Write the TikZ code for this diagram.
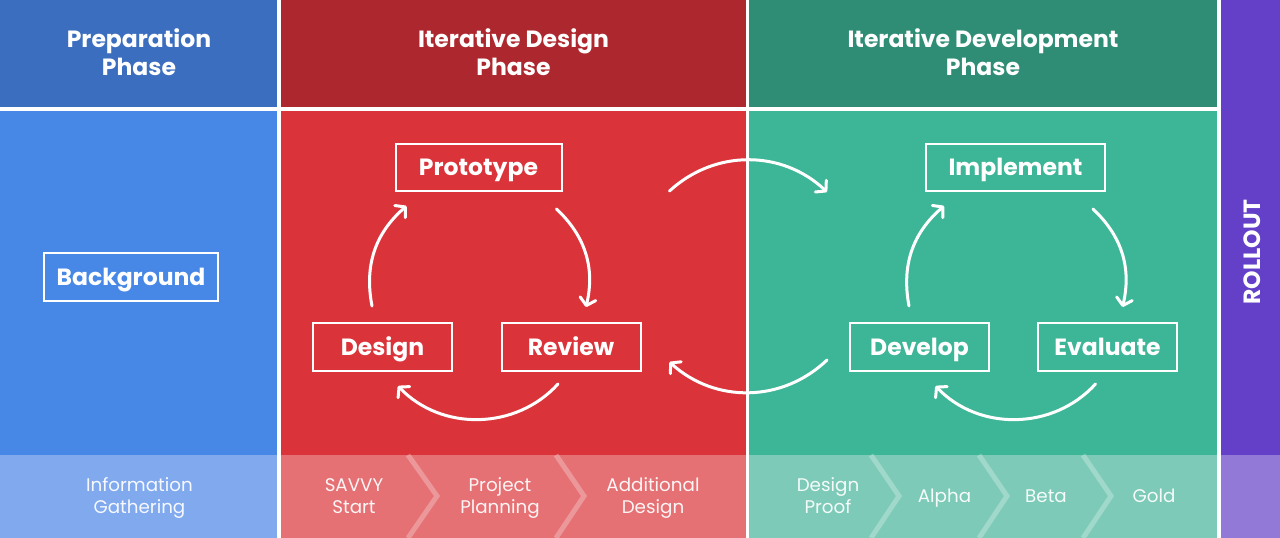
\documentclass[tikz,border=0pt]{standalone}
\usepackage{fontspec}
\setmainfont{Poppins}
\usetikzlibrary{arrows.meta,calc}
\definecolor{bluehd}{HTML}{3C6EBF}
\definecolor{bluebd}{HTML}{4787E5}
\definecolor{bluest}{HTML}{80A9EE}
\definecolor{redhd}{HTML}{AD282E}
\definecolor{redbd}{HTML}{DA333A}
\definecolor{redst}{HTML}{E57174}
\definecolor{grnhd}{HTML}{2F8D76}
\definecolor{grnbd}{HTML}{3DB597}
\definecolor{grnst}{HTML}{7CCAB7}
\definecolor{purp}{HTML}{6340C7}
\definecolor{purpst}{HTML}{9279D8}
\begin{document}
\begin{tikzpicture}[x=1pt,y=-1pt,
  stepbox/.style={draw=white, line width=2pt, text=white, inner sep=0pt,
    font=\bfseries\fontsize{23.5}{27}\selectfont, text height=16.5pt, text depth=0pt},
  hdr/.style={text=white, align=center, inner sep=0pt,
    font=\bfseries\fontsize{23.5}{28}\selectfont},
  striptxt/.style={text=white, text opacity=0.93, align=center, inner sep=0pt,
    font=\fontsize{18.3}{22}\selectfont},
  twoline/.style={striptxt, text height=35pt, text depth=4pt},
  oneline/.style={striptxt, text height=13pt, text depth=4pt},
  cyc/.style={draw=white, line width=3pt, line cap=round,
    -{Straight Barb[length=7pt,width=16pt,line width=3pt,round]}},
  chev/.style={draw=white, draw opacity=0.28, line width=5pt}
]
\useasboundingbox (0,0) rectangle (1280,538);
\fill[white] (0,0) rectangle (1280,538);
% column panels
\fill[bluehd] (0,0) rectangle (277,107);
\fill[bluebd] (0,111) rectangle (277,455);
\fill[bluest] (0,455) rectangle (277,538);
\fill[redhd] (281,0) rectangle (746,107);
\fill[redbd] (281,111) rectangle (746,455);
\fill[redst] (281,455) rectangle (746,538);
\fill[grnhd] (749,0) rectangle (1217,107);
\fill[grnbd] (749,111) rectangle (1217,455);
\fill[grnst] (749,455) rectangle (1217,538);
\fill[purp] (1221,0) rectangle (1280,455);
\fill[purpst] (1221,455) rectangle (1280,538);
% chevrons in the strip
\draw[chev] (408,455) -- (437,496) -- (408,538);
\draw[chev] (556,455) -- (584,496) -- (556,538);
\draw[chev] (871,455) -- (899,496) -- (871,538);
\draw[chev] (979,455) -- (1007,496) -- (979,538);
\draw[chev] (1083,455) -- (1111,496) -- (1083,538);
% headers
\node[hdr] (hprep) at (139,52.5) {Preparation\\Phase};
\node[hdr] (hdes) at (513.5,52.5) {Iterative Design\\Phase};
\node[hdr] (hdev) at (983,52.5) {Iterative Development\\Phase};
\node[hdr, rotate=90] (roll) at (1252,252) {ROLLOUT};
% boxes
\node[stepbox, minimum width=174pt, minimum height=48pt] (bg) at (131,277) {Background};
\node[stepbox, minimum width=166pt, minimum height=47pt] (proto) at (478.5,167.5) {Prototype};
\node[stepbox, minimum width=139pt, minimum height=48pt] (design) at (382.5,347) {Design};
\node[stepbox, minimum width=139pt, minimum height=48pt] (review) at (571,347) {Review};
\node[stepbox, minimum width=179pt, minimum height=47pt] (impl) at (1015.5,167.5) {Implement};
\node[stepbox, minimum width=139pt, minimum height=48pt] (devel) at (919.5,347) {Develop};
\node[stepbox, minimum width=139pt, minimum height=48pt] (eval) at (1107.5,347) {Evaluate};
% red cycle
\draw[cyc] ($(design.north)+(-10.5,-16)$) to[bend left=30] ($(proto.south west)+(12,14)$);
\draw[cyc] ($(proto.south east)+(-6,17)$) to[bend left=30] ($(review.north)+(15,-15)$);
\draw[cyc] ($(review.south)+(-13,12)$) to[bend left=47] ($(design.south)+(15.5,14)$);
% green cycle
\draw[cyc] ($(devel.north)+(-10.5,-16)$) to[bend left=30] ($(impl.south west)+(19,14)$);
\draw[cyc] ($(impl.south east)+(-13,17)$) to[bend left=30] ($(eval.north)+(15,-15)$);
\draw[cyc] ($(eval.south)+(-12,12)$) to[bend left=47] ($(devel.south)+(16,14)$);
% crossing arrows
\coordinate (xa) at ($(review.north east)+(28,-131)$);
\coordinate (xb) at ($(devel.north west)+(-22,-130)$);
\coordinate (xc) at ($(devel.west)+(-22,13)$);
\coordinate (xd) at ($(review.east)+(28,15)$);
\draw[cyc] (xa) to[bend left=43] (xb);
\draw[cyc] (xc) to[bend left=43] (xd);
% strip texts
\node[twoline] (s1) at (139.5,497.5) {Information\\Gathering};
\node[twoline] (s2) at (354,497.5) {SAVVY\\Start};
\node[twoline] (s3) at (500,497.5) {Project\\Planning};
\node[twoline] (s4) at (653,497.5) {Additional\\Design};
\node[twoline] (s5) at (828,497.5) {Design\\Proof};
\node[oneline] (s6) at (944.5,497.5) {Alpha};
\node[oneline] (s7) at (1046,497.5) {Beta};
\node[oneline] (s8) at (1154,497.5) {Gold};
\end{tikzpicture}
\end{document}
